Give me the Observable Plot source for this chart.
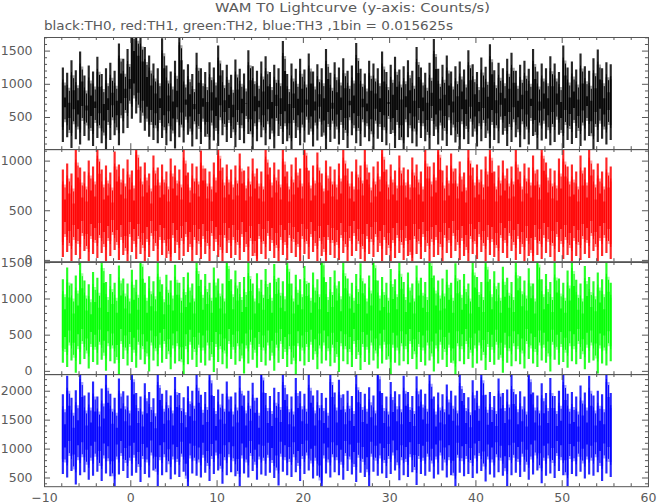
<!DOCTYPE html>
<html><head><meta charset="utf-8">
<script src="https://cdn.jsdelivr.net/npm/d3@7"></script>
<script src="https://cdn.jsdelivr.net/npm/@observablehq/plot@0.6"></script>
<style>
body{margin:0;background:#fff;}
#chart{position:relative;width:657px;height:504px;overflow:hidden;font-family:"DejaVu Sans",sans-serif;}
#chart svg{position:absolute;left:0;}
</style></head><body><div id="chart"></div>
<script>
const title = "WAM T0 Lightcurve (y-axis: Counts/s)";
const subtitle = "black:TH0, red:TH1, green:TH2, blue:TH3 ,1bin = 0.015625s";
const tStart = -8, tStep = 0.25;

const th0 = [
350,1020,420,940,260,1130,390,980,310,1260,440,900,370,1050,290,960,
410,1180,330,920,220,1010,380,1090,450,970,300,1380,480,1150,560,1300,
700,1720,780,1650,640,1560,520,1330,430,1200,380,1080,330,1010,410,1460,
300,1050,360,960,250,1120,420,1580,340,990,460,1070,280,920,390,1240,
320,1010,430,950,200,1100,370,1020,290,1350,450,980,350,1060,410,910,
270,1140,380,1000,330,930,470,1280,240,1040,360,970,420,1110,300,1190,
390,950,250,1060,440,1010,320,1420,360,920,180,1080,410,1000,300,1150,
340,990,460,1230,280,960,370,1070,430,1010,220,1300,350,940,400,1100,
310,1020,380,1160,260,970,450,1050,330,1390,290,1000,420,930,360,1120,
240,1080,400,1010,350,1260,300,950,470,1060,260,1180,380,990,150,1040,
420,1130,330,970,280,1330,410,1020,360,940,230,1090,440,1450,310,1000,
370,1060,290,1200,450,960,340,1040,200,1110,390,990,320,1280,430,1070,
280,950,360,1170,410,1030,250,1370,380,980,330,1090,460,1010,290,1150,
350,1240,420,970,270,1060,390,1120,310,1000,440,1300,230,960,370,1080,
400,1010,300,1190,350,1080,460,950,260,1350,380,1020,320,1110,410,990,
290,1230,370,1040,440,970,210,1160,350,1290,400,1010,310,1100,380,1070];

const th1 = [
180,760,230,820,140,720,200,980,160,780,240,740,110,850,210,790,
170,1020,220,760,130,800,190,730,250,940,150,810,200,770,90,860,
230,750,160,1060,210,790,120,830,180,720,240,900,140,780,200,810,
170,740,60,870,220,800,150,760,190,1000,230,730,130,820,200,790,
160,950,210,770,140,740,240,830,180,1050,100,780,220,810,170,760,
200,800,150,920,230,750,130,790,190,870,40,770,210,740,160,1010,
240,780,170,830,120,760,200,990,150,740,220,810,180,880,130,770,
210,1080,160,750,230,800,140,930,190,720,80,850,200,790,170,760,
150,820,220,1000,130,770,190,740,240,860,160,800,110,960,210,730,
180,790,230,840,140,1040,200,760,120,810,170,750,220,900,150,780,
190,760,50,880,210,810,160,740,230,970,140,790,180,830,200,1060,
130,750,220,800,170,920,240,770,150,840,190,730,100,1000,210,780,
160,810,230,760,140,890,200,1030,180,740,120,800,220,850,170,770,
240,790,150,960,210,740,130,820,190,780,70,900,200,760,160,1050,
220,830,180,770,140,750,230,870,160,990,200,790,120,810,190,740,
150,900,210,780,170,1000,240,760,130,820,190,740,220,880,160,790];

const th2 = [
320,1060,260,1220,350,1000,180,1110,300,1350,370,1040,240,990,330,1160,
290,1080,360,1420,210,1020,340,1130,310,1010,150,1250,370,1070,280,1000,
330,1190,250,1050,360,1480,300,1010,200,1100,350,1030,270,1300,320,990,
370,1120,230,1040,310,1260,340,1010,120,1090,300,1150,360,1000,260,1380,
320,1050,280,1130,350,1010,190,1220,330,1070,300,1000,240,1450,370,1060,
290,1180,340,1020,170,1090,310,1310,360,1000,250,1140,330,1050,280,1200,
350,1010,210,1270,320,1080,370,1030,260,1410,300,1000,140,1120,340,1060,
280,1240,330,1010,360,1150,230,1060,310,1500,350,1020,270,1090,320,1180,
190,1030,340,1350,300,1070,260,1010,370,1130,220,1280,330,1000,290,1110,
350,1460,240,1040,310,1090,360,1010,160,1200,320,1060,280,1340,340,1020,
300,1150,370,1000,230,1250,330,1080,280,1020,350,1490,200,1110,310,1040,
360,1070,260,1190,320,1010,100,1280,340,1050,300,1130,370,1000,250,1360,
310,1090,350,1020,220,1440,330,1060,290,1170,360,1010,180,1230,320,1080,
270,1020,340,1320,300,1100,240,1040,370,1210,310,1000,260,1470,350,1060,
320,1130,200,1020,360,1290,290,1070,330,1010,250,1180,340,1380,300,1050,
370,1000,230,1240,320,1090,350,1030,170,1150,310,1060,280,1300,340,1010];

const th3 = [
820,1680,760,2000,870,1620,640,1750,800,2150,850,1660,720,1710,790,1900,
860,1640,700,1780,830,2050,780,1690,520,1620,810,1950,870,1730,750,1660,
790,2200,840,1700,680,1640,820,1870,760,1720,880,1610,600,2100,800,1690,
850,1750,730,1660,810,1980,770,1700,860,1630,480,1820,830,1740,790,2050,
760,1670,840,1720,700,2180,820,1650,880,1760,650,1690,800,1900,850,1640,
780,1710,560,2000,830,1660,760,1740,870,1880,720,1620,810,2230,790,1700,
840,1650,750,1790,620,1720,860,2100,800,1680,770,1640,850,1960,700,1730,
820,1690,880,2050,740,1660,790,1750,450,1700,830,1620,760,2150,850,1710,
800,1930,720,1680,870,1740,810,1650,680,2060,840,1720,770,1690,590,1800,
860,1660,790,2250,830,1700,750,1640,820,1890,880,1730,710,1680,800,2000,
770,1720,850,1650,630,1990,820,1760,790,1690,860,2120,740,1640,810,1710,
880,1680,760,1850,800,1740,530,1660,840,2080,780,1700,820,1630,750,1920,
830,1740,870,2180,690,1670,810,1720,760,1650,850,1950,790,1700,610,1760,
800,2030,840,1680,770,1730,860,1640,720,2200,810,1710,880,1660,660,1870,
790,1700,830,1960,750,1650,870,1740,800,2100,540,1690,820,1720,780,1640,
860,1830,740,1710,810,2000,790,1660,850,1740,700,1680,830,2150,770,1700];

const seriesValues = [th0, th1, th2, th3];
const seriesColors = ["#000000", "#ff0000", "#00ff00", "#0000ff"];
const yDomains = [[15, 1705], [-13, 1117], [-46, 1504], [350, 2289]];
const yTickLabels = [[500, 1000, 1500], [0, 500, 1000], [0, 500, 1000, 1500], [500, 1000, 1500, 2000]];
const xTickLabels = [-10, 0, 10, 20, 30, 40, 50, 60];
const xDomain = [-10, 60];

const root = document.getElementById("chart");
const textColor = "#5a5a5a";
const font = "'DejaVu Sans', sans-serif";

const NS = "http://www.w3.org/2000/svg";
const head = document.createElementNS(NS, "svg");
head.setAttribute("width", 657); head.setAttribute("height", 36);
head.style.top = "0px";
[[title, 215, 12, 275], [subtitle, 44, 30, 409]].forEach(([txt, x, y, w]) => {
  const t = document.createElementNS(NS, "text");
  t.setAttribute("x", x); t.setAttribute("y", y);
  t.setAttribute("textLength", w); t.setAttribute("lengthAdjust", "spacingAndGlyphs");
  t.setAttribute("fill", textColor);
  t.setAttribute("font-family", font); t.setAttribute("font-size", 13);
  t.textContent = txt;
  head.appendChild(t);
});
root.appendChild(head);

const panelTops = [37, 149.3, 261.7, 374];
const panelH = 112.2;
const W = 657, mL = 44, mR = 9, plotW = W - mL - mR;
const axisColor = "#555";
const fmt = d3.format("d");
const colW = plotW / (xDomain[1] - xDomain[0]) * tStep;

const xMinor = d3.range(-10, 61, 2).filter(v => v % 10 !== 0);
const xMajor = xTickLabels;

seriesValues.forEach((vals, i) => {
  const segs = vals.slice(1).map((v, k) => ({t: tStart + (k + 0.5) * tStep, a: vals[k], b: v}));
  const last = i === 3;
  const mt = 12, mb = last ? 18 : 12;
  const [y0, y1] = yDomains[i];
  const yAll = d3.range(Math.ceil(y0 / 100) * 100, y1, 100);
  const yMaj = yAll.filter(v => v % 500 === 0);
  const yMin = yAll.filter(v => v % 500 !== 0);
  const tick = {stroke: axisColor, strokeWidth: 1};
  const c = seriesColors[i];
  const marks = [
    Plot.ruleX(segs, {x: "t", y1: "a", y2: "b", stroke: c, strokeWidth: colW, strokeOpacity: 0.35, clip: true}),
    Plot.ruleX(segs, {x: "t", y1: "a", y2: "b", stroke: c, strokeWidth: 1, insetTop: 3, insetBottom: 3, clip: true}),
    Plot.ruleX(segs, {x: "t", y1: "a", y2: "b", stroke: c, strokeWidth: colW, strokeOpacity: 0.85, insetTop: 15, insetBottom: 15, clip: true}),
    Plot.frame({stroke: axisColor}),
    Plot.tickX(xMinor, {x: d => d, insetBottom: panelH - 3, ...tick}),
    Plot.tickX(xMajor, {x: d => d, insetBottom: panelH - 6, ...tick}),
    Plot.tickX(xMinor, {x: d => d, insetTop: panelH - 3, ...tick}),
    Plot.tickX(xMajor, {x: d => d, insetTop: panelH - 6, ...tick}),
    Plot.tickY(yMin, {y: d => d, insetRight: plotW - 3, ...tick}),
    Plot.tickY(yMaj, {y: d => d, insetRight: plotW - 6, ...tick}),
    Plot.tickY(yMin, {y: d => d, insetLeft: plotW - 3, ...tick}),
    Plot.tickY(yMaj, {y: d => d, insetLeft: plotW - 6, ...tick}),
    Plot.axisY(yTickLabels[i], {tickSize: 0, tickPadding: 12, label: null, fontSize: 12.5, tickFormat: fmt, fill: textColor})
  ];
  if (last) marks.push(Plot.axisX(xTickLabels, {anchor: "bottom", tickSize: 0, tickPadding: 6, label: null, fontSize: 12.5, tickFormat: fmt, fill: textColor}));
  const svg = Plot.plot({
    width: W, height: panelH + mt + mb,
    marginLeft: mL, marginRight: mR, marginTop: mt, marginBottom: mb,
    x: {domain: xDomain, axis: null},
    y: {domain: yDomains[i], axis: null},
    style: {background: "transparent", overflow: "visible", fontFamily: font, color: axisColor},
    marks
  });
  svg.style.top = (panelTops[i] - mt) + "px";
  root.appendChild(svg);
});
</script></body></html>
